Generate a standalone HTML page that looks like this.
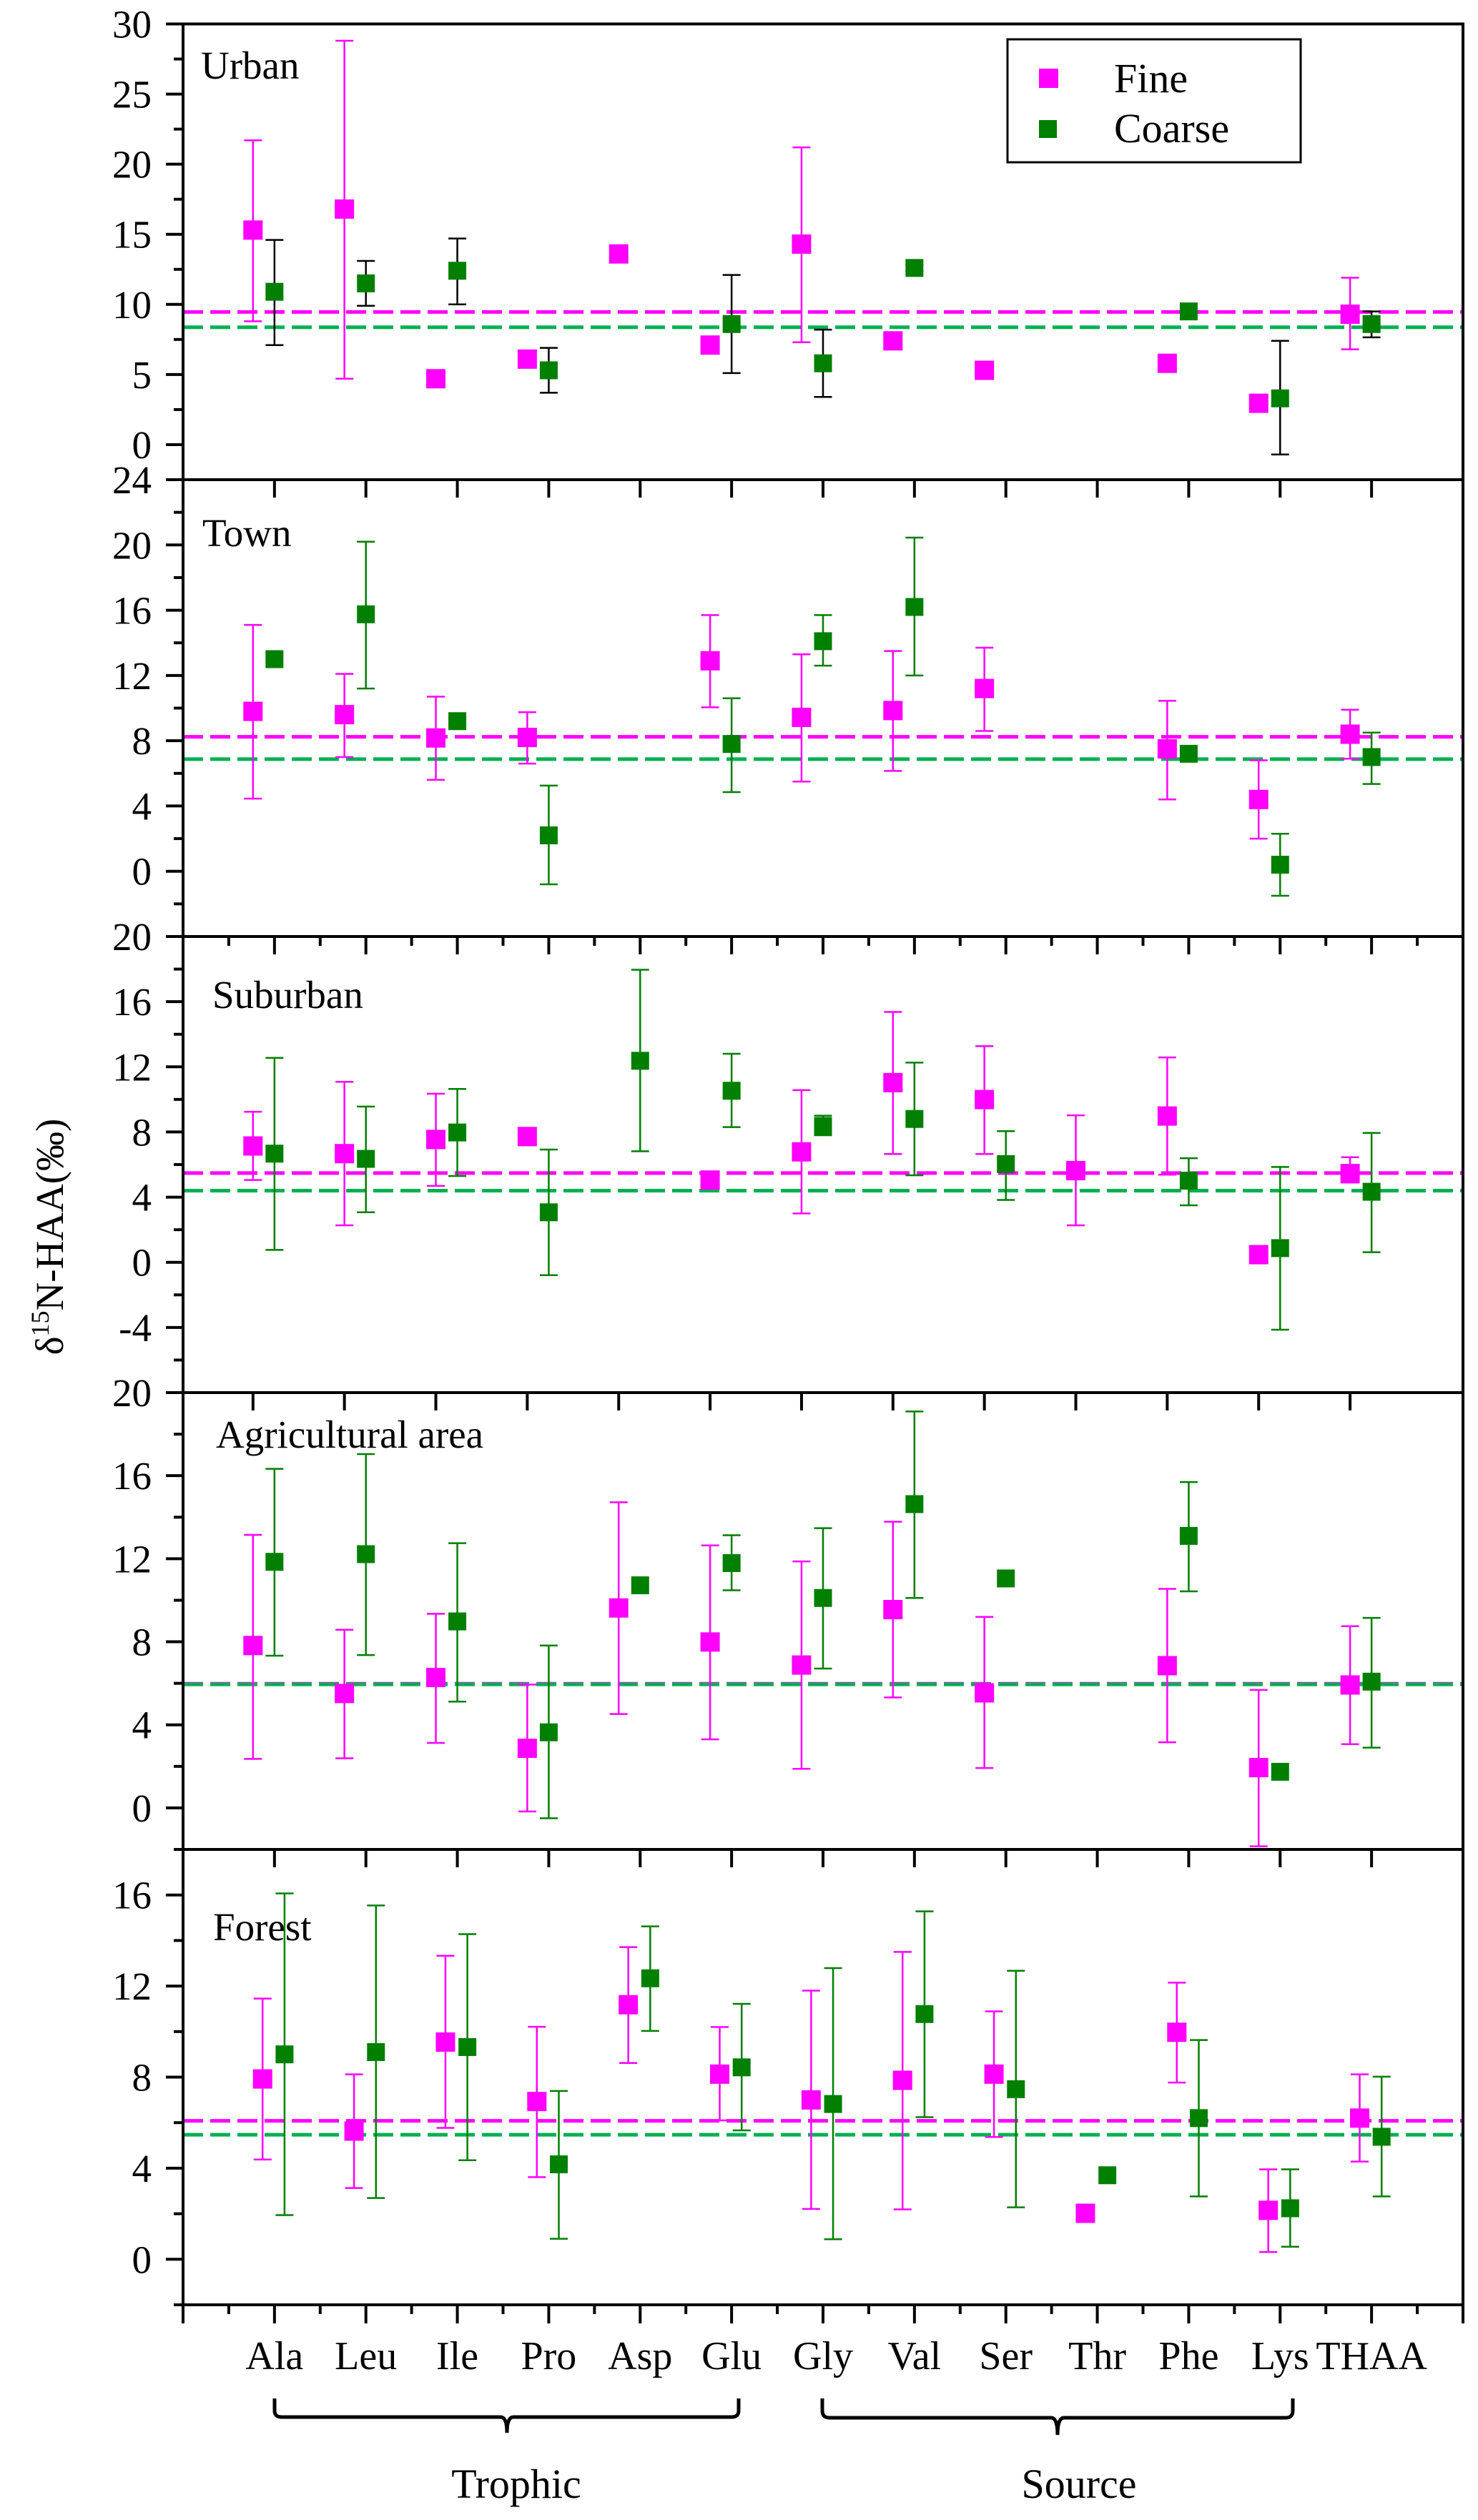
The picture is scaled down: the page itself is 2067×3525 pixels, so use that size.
<!DOCTYPE html>
<html><head><meta charset="utf-8"><title>δ15N-HAA by amino acid and land-use type</title>
<style>html,body{margin:0;padding:0;background:#fff}svg{display:block}svg text{font-family:"Liberation Serif","Times New Roman","DejaVu Serif",serif !important;fill:#000}</style>
</head><body>
<svg id="chart" xmlns="http://www.w3.org/2000/svg" width="2067" height="3525" viewBox="0 0 2067 3525" font-family="Liberation Serif, Times New Roman, serif">
<rect x="0" y="0" width="2067" height="3525" fill="#fff"/>
<g id="plots"></g>
<g id="legend">
<rect x="1409" y="55" width="410" height="172" fill="#fff" stroke="#000" stroke-width="3"/>
<rect x="1453" y="96" width="27" height="27" fill="#ff00ff"/>
<text x="1558" y="129" font-size="58" font-family="Liberation Serif, serif">Fine</text>
<rect x="1453" y="168" width="25" height="25" fill="#007f00"/>
<text x="1558" y="199" font-size="58" font-family="Liberation Serif, serif">Coarse</text>
</g>
<text transform="translate(88,1730) rotate(-90)" text-anchor="middle" font-size="55" font-family="Liberation Serif, serif">δ<tspan font-size="36" dy="-20">15</tspan><tspan dy="20">N-HAA(‰)</tspan></text>
<g>
<path d="M384 3355 L384 3372 Q384 3381 394 3381 L700 3381 Q709 3381 709 3403 Q709 3381 718 3381 L1023 3381 Q1033 3381 1033 3372 L1033 3355" fill="none" stroke="#000" stroke-width="5"/>
</g>
<g>
<path d="M1150 3355 L1150 3372 Q1150 3382 1160 3382 L1470 3382 Q1479 3382 1479 3406 Q1479 3382 1488 3382 L1798 3382 Q1808 3382 1808 3372 L1808 3355" fill="none" stroke="#000" stroke-width="5"/>
</g>
<text x="722" y="3494" text-anchor="middle" font-size="58" font-family="Liberation Serif, serif">Trophic</text>
<text x="1509" y="3494" text-anchor="middle" font-size="58" font-family="Liberation Serif, serif">Source</text>
</svg>
<script>
const categories = ["Ala","Leu","Ile","Pro","Asp","Glu","Gly","Val","Ser","Thr","Phe","Lys","THAA"];
const panelNames = ["Urban","Town","Suburban","Agricultural area","Forest"];

const urbanFine = [15.3,16.8,4.7,6.1,13.6,7.1,14.3,7.4,5.3,null,5.8,2.95,9.3];
const urbanFineHi = [21.7,28.8,null,null,null,null,21.2,null,null,null,null,null,11.9];
const urbanFineLo = [8.8,4.7,null,null,null,null,7.3,null,null,null,null,null,6.8];
const urbanCoarse = [10.9,11.5,12.4,5.3,null,8.6,5.8,12.6,null,null,9.5,3.3,8.6];
const urbanCoarseHi = [14.6,13.1,14.7,6.9,null,12.1,8.2,12.8,null,null,null,7.4,9.5];
const urbanCoarseLo = [7.1,9.9,10.0,3.7,null,5.1,3.4,12.4,null,null,null,-0.7,7.65];
const urbanMeans = [9.46,8.37];

const townFine = [9.8,9.6,8.17,8.2,null,12.9,9.43,9.85,11.2,null,7.5,4.4,8.4];
const townFineHi = [15.1,12.1,10.7,9.75,null,15.7,13.3,13.5,13.7,null,10.45,6.8,9.9];
const townFineLo = [4.45,7.0,5.6,6.6,null,10.05,5.5,6.15,8.6,null,4.4,2.0,6.9];
const townCoarse = [13.0,15.75,9.2,2.2,null,7.8,14.1,16.2,null,null,7.2,0.4,7.0];
const townCoarseHi = [null,20.2,9.4,5.25,null,10.6,15.7,20.45,null,null,null,2.3,8.5];
const townCoarseLo = [null,11.2,9.0,-0.8,null,4.85,12.6,12.0,null,null,null,-1.5,5.35];
const townMeans = [8.24,6.87];

const suburbanFine = [7.14,6.67,7.54,7.72,null,5.05,6.78,11.03,9.99,5.63,8.98,0.47,5.45];
const suburbanFineHi = [9.24,11.08,10.35,null,null,null,10.57,15.37,13.27,9.02,12.58,null,6.45];
const suburbanFineLo = [5.05,2.27,4.69,null,null,null,3.0,6.65,6.65,2.27,5.38,null,4.9];
const suburbanCoarse = [6.67,6.35,7.97,3.07,12.37,10.53,8.37,8.8,6.03,null,5.01,0.87,4.33];
const suburbanCoarseHi = [12.55,9.56,10.64,6.92,17.96,12.8,9.0,12.26,8.05,null,6.39,5.85,7.94];
const suburbanCoarseLo = [0.76,3.07,5.3,-0.79,6.82,8.3,7.8,5.34,3.83,null,3.5,-4.14,0.62];
const suburbanMeans = [5.48,4.4];

const agriFine = [7.82,5.51,6.28,2.87,9.63,7.99,6.88,9.55,5.54,null,6.85,1.94,5.92];
const agriFineHi = [13.15,8.58,9.35,5.94,14.72,12.64,11.87,13.78,9.2,null,10.55,5.68,8.75];
const agriFineLo = [2.36,2.39,3.13,-0.17,4.52,3.3,1.88,5.32,1.92,null,3.16,-1.85,3.07];
const agriCoarse = [11.85,12.22,8.98,3.64,10.72,11.79,10.11,14.63,11.05,null,13.1,1.74,6.08];
const agriCoarseHi = [16.33,17.04,12.75,7.82,null,13.13,13.47,19.09,null,null,15.69,null,9.15];
const agriCoarseLo = [7.33,7.36,5.12,-0.5,null,10.48,6.71,10.11,null,null,10.43,null,2.9];
const agriMeans = [5.98,5.95];

const forestFine = [7.92,5.63,9.54,6.93,11.18,8.13,7.0,7.86,8.13,2.02,9.97,2.15,6.2];
const forestFineHi = [11.45,8.12,13.33,10.21,13.71,10.2,11.8,13.5,10.89,null,12.15,3.95,8.12];
const forestFineLo = [4.38,3.13,5.77,3.61,8.62,6.1,2.21,2.19,5.37,null,7.76,0.32,4.29];
const forestCoarse = [9.0,9.1,9.32,4.17,12.34,8.43,6.82,10.77,7.47,3.69,6.2,2.24,5.38];
const forestCoarseHi = [16.07,15.54,14.28,7.39,14.62,11.22,12.79,15.28,12.67,null,9.63,3.95,8.02];
const forestCoarseLo = [1.94,2.69,4.35,0.9,10.03,5.66,0.88,6.24,2.28,null,2.76,0.55,2.76];
const forestMeans = [6.08,5.47];

const urbanTicks = [0,5,10,15,20,25,30];
const townTicks = [0,4,8,12,16,20,24];
const suburbanTicks = [-4,0,4,8,12,16,20];
const agriTicks = [0,4,8,12,16,20];
const forestTicks = [0,4,8,12,16];

const NS = "http://www.w3.org/2000/svg";
const FONT = "Liberation Serif, Times New Roman, serif";
const root = document.getElementById("plots");
const XL = 256, XR = 2046, XMAX = 14;
function xScale(v){ return XL + (XR - XL) * v / XMAX; }
function mk(tag, attrs, parent){
  const e = document.createElementNS(NS, tag);
  for (const k in attrs) e.setAttribute(k, attrs[k]);
  if (tag === "text") e.setAttribute("font-family", FONT);
  (parent || root).appendChild(e);
  return e;
}

const panels = [
 {key:"urban", top:33.5, bottom:671, lo:-2.5, hi:30, ticks:urbanTicks, minor:2.5, fine:[urbanFine,urbanFineHi,urbanFineLo], coarse:[urbanCoarse,urbanCoarseHi,urbanCoarseLo], means:urbanMeans, fo:-0.235, co:0, cErr:"#000", title:[281,110], topTicks:null},
 {key:"town", top:671, bottom:1310, lo:-4, hi:24, ticks:townTicks, minor:2, fine:[townFine,townFineHi,townFineLo], coarse:[townCoarse,townCoarseHi,townCoarseLo], means:townMeans, fo:-0.235, co:0, cErr:"#007f00", title:[283,764], topTicks:"major"},
 {key:"suburban", top:1310, bottom:1948, lo:-8, hi:20, ticks:suburbanTicks, minor:2, fine:[suburbanFine,suburbanFineHi,suburbanFineLo], coarse:[suburbanCoarse,suburbanCoarseHi,suburbanCoarseLo], means:suburbanMeans, fo:-0.235, co:0, cErr:"#007f00", title:[297,1410], topTicks:"both"},
 {key:"agricultural", top:1948, bottom:2587, lo:-2, hi:20, ticks:agriTicks, minor:2, fine:[agriFine,agriFineHi,agriFineLo], coarse:[agriCoarse,agriCoarseHi,agriCoarseLo], means:agriMeans, fo:-0.235, co:0, cErr:"#007f00", title:[302,2025], topTicks:"offset"},
 {key:"forest", top:2587, bottom:3224, lo:-2, hi:18, ticks:forestTicks, minor:2, fine:[forestFine,forestFineHi,forestFineLo], coarse:[forestCoarse,forestCoarseHi,forestCoarseLo], means:forestMeans, fo:-0.13, co:0.11, cErr:"#007f00", title:[298,2714], topTicks:"major"}
];

panels.forEach((p, pi) => {
  const g = mk("g", {});
  
  
  const yScale = v => p.bottom - (v - p.lo) * (p.bottom - p.top) / (p.hi - p.lo);

  const t = mk("text", {x:p.title[0], y:p.title[1], "font-size":55}, g);
  t.textContent = panelNames[pi];
  
  

  const mcols = ["#ff00ff", "#00b050"];
  p.means.forEach((m, mi) => {
    const ln = mk("line", {x1:XL, x2:XR, y1:yScale(m), y2:yScale(m), stroke:mcols[mi], "stroke-width":5, "stroke-dasharray":"28 10"}, g);
    
    
  });

  for (let v = Math.ceil(p.lo / p.minor) * p.minor; v <= p.hi + 1e-9; v += p.minor) {
    const isMajor = p.ticks.some(tv => Math.abs(tv - v) < 1e-9);
    const y = yScale(v);
    const tk = mk("line", {x1:isMajor ? 232 : 243, x2:XL, y1:y, y2:y, stroke:"#000", "stroke-width":4}, g);
    
    
  }
  p.ticks.forEach(v => {
    const lb = mk("text", {x:212, y:yScale(v) + 19, "text-anchor":"end", "font-size":55}, g);
    lb.textContent = String(v);
    
    
  });

  if (p.topTicks) {
    for (let i = 1; i <= 13; i++) {
      const xv = p.topTicks === "offset" ? i + p.fo : i;
      const tk = mk("line", {x1:xScale(xv), x2:xScale(xv), y1:p.top, y2:p.top + 25, stroke:"#000", "stroke-width":4}, g);
      
      
    }
    if (p.topTicks === "both") {
      for (let i = 0; i < 14; i++) {
        const tk = mk("line", {x1:xScale(i + 0.5), x2:xScale(i + 0.5), y1:p.top, y2:p.top + 13, stroke:"#000", "stroke-width":4}, g);
        
        
      }
    }
  }

  function drawSeries(arrs, off, markerCol, errCol, sname, size) {
    const [vals, his, los] = arrs;
    vals.forEach((v, i) => {
      if (v === null) return;
      const cx = xScale(i + 1 + off);
      if (his[i] !== null && los[i] !== null) {
        const eg = mk("g", {stroke:errCol, "stroke-width":2.5}, g);
        
        
        mk("line", {x1:cx, x2:cx, y1:yScale(his[i]), y2:yScale(los[i])}, eg);
        mk("line", {x1:cx - 12.5, x2:cx + 12.5, y1:yScale(his[i]), y2:yScale(his[i])}, eg);
        mk("line", {x1:cx - 12.5, x2:cx + 12.5, y1:yScale(los[i]), y2:yScale(los[i])}, eg);
      }
      const r = mk("rect", {x:cx - size / 2, y:yScale(v) - size / 2, width:size, height:size, fill:markerCol}, g);
      
      
    });
  }
  drawSeries(p.fine, p.fo, "#ff00ff", "#ff00ff", "fine", 27);
  drawSeries(p.coarse, p.co, "#007f00", p.cErr, "coarse", 25);

  const fr = mk("rect", {x:XL, y:p.top, width:XR - XL, height:p.bottom - p.top, fill:"none", stroke:"#000", "stroke-width":4}, g);
  
  
});

const xg = mk("g", {});


for (let i = 0; i <= 28; i++) {
  const v = i / 2, major = i % 2 === 0;
  const tk = mk("line", {x1:xScale(v), x2:xScale(v), y1:3224, y2:major ? 3250 : 3237, stroke:"#000", "stroke-width":4}, xg);
  
  
}
categories.forEach((c, i) => {
  const lb = mk("text", {x:xScale(i + 1), y:3314, "text-anchor":"middle", "font-size":56}, xg);
  lb.textContent = c;
  
  
});
</script>
</body></html>
